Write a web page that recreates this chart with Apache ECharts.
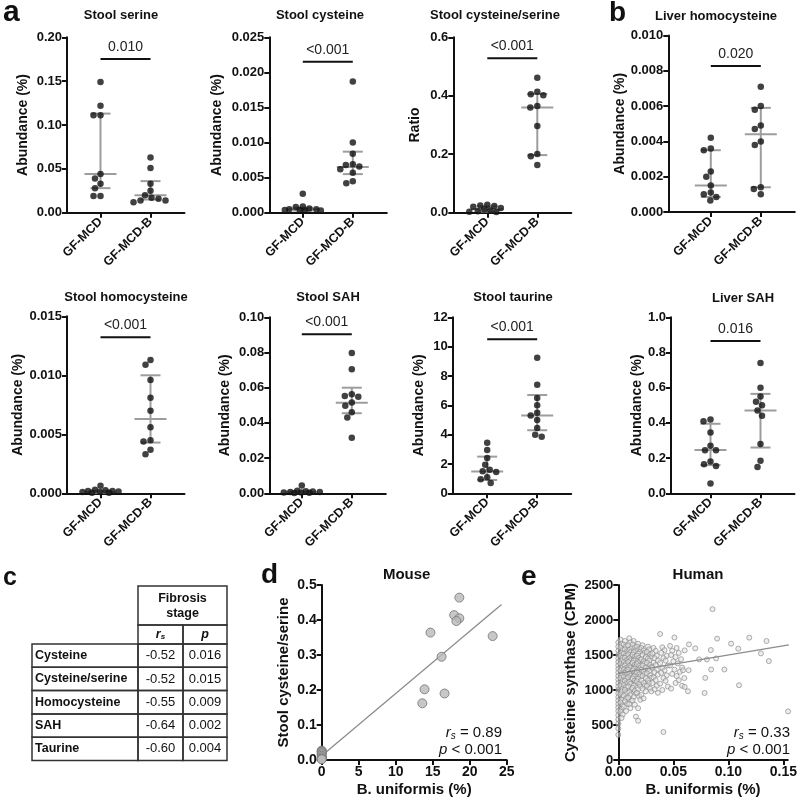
<!DOCTYPE html>
<html><head><meta charset="utf-8">
<script src="https://cdn.jsdelivr.net/npm/echarts@6.0.0/dist/echarts.min.js"></script>
<style>html,body{margin:0;padding:0;background:#fff}#c{width:800px;height:805px}</style>
</head><body><div id="c"></div>
<script>
// ---------------- DATA ----------------
const groups = ['GF-MCD', 'GF-MCD-B'];

const stoolSerineMCD  = [0.149, 0.122, 0.111, 0.111, 0.044, 0.039, 0.033, 0.028, 0.019, 0.019];
const stoolSerineMCDB = [0.063, 0.051, 0.033, 0.025, 0.020, 0.017, 0.016, 0.014, 0.014, 0.012];
const stoolSerineStats = [[0.044, 0.028, 0.113], [0.020, 0.015, 0.036]]; // median, q1, q3

const stoolCysMCD  = [0.0027, 0.0009, 0.0008, 0.0006, 0.0005, 0.0005, 0.0004, 0.0004, 0.0003, 0.0003];
const stoolCysMCDB = [0.0187, 0.0100, 0.0084, 0.0069, 0.0068, 0.0066, 0.0062, 0.0057, 0.0045, 0.0042];
const stoolCysStats = [[0.0005, 0.0003, 0.0007], [0.0065, 0.0055, 0.0087]];

const ratioMCD  = [0.027, 0.025, 0.023, 0.020, 0.016, 0.012, 0.008, 0.005, 0.003, 0.002];
const ratioMCDB = [0.462, 0.414, 0.405, 0.402, 0.365, 0.360, 0.297, 0.201, 0.193, 0.163];
const ratioStats = [[0.012, 0.004, 0.022], [0.360, 0.197, 0.406]];

const liverHcyMCD  = [0.0042, 0.0036, 0.0035, 0.0023, 0.0020, 0.0015, 0.0011, 0.0010, 0.00085, 0.00065];
const liverHcyMCDB = [0.0071, 0.0060, 0.0058, 0.0049, 0.0047, 0.0040, 0.0038, 0.0014, 0.0013, 0.0010];
const liverHcyStats = [[0.0015, 0.00085, 0.0035], [0.0044, 0.0014, 0.0059]];

const stoolHcyMCD  = [0.00065, 0.0003, 0.00025, 0.0002, 0.0002, 0.00015, 0.0001, 0.0001, 0.00005, 0.00005];
const stoolHcyMCDB = [0.0113, 0.0109, 0.0096, 0.0081, 0.0070, 0.0056, 0.0045, 0.0044, 0.0037, 0.0033];
const stoolHcyStats = [[0.00012, 0.00005, 0.00022], [0.0063, 0.0043, 0.0100]];

const stoolSAHMCD  = [0.0045, 0.0015, 0.0012, 0.0010, 0.0008, 0.0007, 0.0005, 0.0004, 0.0003, 0.0002];
const stoolSAHMCDB = [0.0797, 0.0705, 0.0563, 0.0553, 0.0549, 0.0516, 0.0498, 0.0460, 0.0430, 0.0316];
const stoolSAHStats = [[0.0007, 0.0003, 0.0012], [0.0515, 0.0455, 0.0600]];

const taurineMCD  = [3.45, 2.95, 2.4, 1.95, 1.6, 1.5, 1.45, 1.1, 0.95, 0.7];
const taurineMCDB = [9.25, 7.4, 6.5, 6.0, 5.5, 5.3, 5.0, 4.45, 4.0, 3.85];
const taurineStats = [[1.48, 0.91, 2.5], [5.3, 4.3, 6.7]];

const liverSAHMCD  = [0.42, 0.41, 0.345, 0.27, 0.245, 0.245, 0.18, 0.165, 0.155, 0.055];
const liverSAHMCDB = [0.74, 0.60, 0.55, 0.52, 0.50, 0.47, 0.44, 0.28, 0.185, 0.15];
const liverSAHStats = [[0.246, 0.16, 0.395], [0.47, 0.26, 0.565]];

const pTexts = ['0.010', '<0.001', '<0.001', '0.020', '<0.001', '<0.001', '<0.001', '0.016'];

const tableNames = ['Cysteine', 'Cysteine/serine', 'Homocysteine', 'SAH', 'Taurine'];
const tableRs = [-0.52, -0.52, -0.55, -0.64, -0.60];
const tableP  = [0.016, 0.015, 0.009, 0.002, 0.004];

const mouseBU    = [0, 0, 0, 0, 0, 0, 0, 0, 0, 0, 18.6, 17.9, 18.6, 18.2, 14.7, 23.1, 16.2, 13.9, 16.6, 13.6];
const mouseRatio = [0.027, 0.025, 0.023, 0.020, 0.016, 0.012, 0.008, 0.005, 0.003, 0.002,
                    0.464, 0.414, 0.405, 0.397, 0.364, 0.354, 0.295, 0.202, 0.190, 0.162];
const mouseFit = [[0, 0.012], [24.3, 0.444]];

const humanPoints = [
 [0,1680],[0,1620],[0,1560],[0,1500],[0,1450],[0,1400],[0,1350],[0,1300],[0,1250],[0,1200],[0,1150],[0,1100],[0,1050],
 [0,1000],[0,950],[0,900],[0,850],[0,800],[0,750],[0,700],[0,640],[0,580],[0,520],[0,450],[0,360],
 [0.002,1720],[0.003,1660],[0.002,1610],[0.004,1570],[0.003,1530],[0.002,1490],[0.004,1460],[0.003,1420],[0.002,1380],
 [0.004,1340],[0.003,1310],[0.002,1280],[0.004,1240],[0.003,1210],[0.002,1170],[0.004,1130],[0.003,1090],[0.002,1060],
 [0.004,1020],[0.003,980],[0.002,940],[0.004,900],[0.003,860],[0.002,820],[0.004,780],[0.003,730],[0.002,690],[0.004,650],[0.003,600],
 [0.006,1700],[0.005,1650],[0.007,1620],[0.006,1580],[0.008,1550],[0.005,1520],[0.007,1490],[0.006,1460],[0.008,1430],
 [0.005,1400],[0.007,1375],[0.006,1350],[0.008,1320],[0.005,1295],[0.007,1270],[0.006,1245],[0.008,1220],[0.005,1190],
 [0.007,1160],[0.006,1130],[0.008,1100],[0.005,1070],[0.007,1040],[0.006,1000],[0.008,960],[0.005,920],[0.007,880],
 [0.006,840],[0.008,800],[0.005,760],[0.007,700],
 [0.010,1740],[0.011,1680],[0.009,1640],[0.012,1600],[0.010,1570],[0.011,1540],[0.009,1510],[0.012,1480],[0.010,1455],
 [0.011,1425],[0.009,1400],[0.012,1370],[0.010,1345],[0.011,1320],[0.009,1290],[0.012,1260],[0.010,1235],[0.011,1205],
 [0.009,1180],[0.012,1150],[0.010,1120],[0.011,1090],[0.009,1050],[0.012,1010],[0.010,970],[0.011,930],[0.009,890],
 [0.012,850],[0.010,800],[0.011,740],
 [0.014,1700],[0.013,1650],[0.015,1610],[0.016,1570],[0.014,1540],[0.013,1505],[0.015,1475],[0.016,1445],[0.014,1420],
 [0.013,1390],[0.015,1360],[0.016,1335],[0.014,1305],[0.013,1280],[0.015,1250],[0.016,1225],[0.014,1195],[0.013,1165],
 [0.015,1135],[0.016,1100],[0.014,1065],[0.013,1030],[0.015,990],[0.016,950],[0.014,900],[0.013,850],[0.015,790],
 [0.016,620],[0.018,560],
 [0.018,1660],[0.017,1620],[0.019,1585],[0.020,1550],[0.018,1520],[0.017,1490],[0.019,1460],[0.020,1430],[0.018,1400],
 [0.017,1370],[0.019,1345],[0.020,1315],[0.018,1285],[0.017,1255],[0.019,1225],[0.020,1195],[0.018,1160],[0.017,1125],
 [0.019,1090],[0.020,1050],[0.018,1010],[0.017,960],[0.019,910],[0.020,860],[0.018,740],
 [0.022,1640],[0.021,1600],[0.023,1565],[0.024,1530],[0.022,1500],[0.025,1470],[0.021,1440],[0.023,1410],[0.024,1380],
 [0.022,1350],[0.025,1320],[0.021,1290],[0.023,1260],[0.024,1230],[0.022,1200],[0.025,1170],[0.021,1135],[0.023,1100],
 [0.024,1060],[0.022,1020],[0.025,980],[0.021,930],[0.023,880],
 [0.027,1620],[0.028,1580],[0.026,1545],[0.029,1510],[0.030,1480],[0.027,1450],[0.028,1420],[0.026,1390],[0.029,1360],
 [0.030,1330],[0.027,1300],[0.028,1270],[0.026,1240],[0.029,1210],[0.030,1175],[0.027,1140],[0.028,1100],[0.026,1060],
 [0.029,1020],[0.030,980],
 [0.032,1600],[0.034,1560],[0.031,1520],[0.035,1490],[0.033,1455],[0.036,1420],[0.032,1390],[0.034,1355],[0.031,1320],
 [0.035,1290],[0.033,1255],[0.036,1220],[0.032,1180],[0.034,1140],[0.031,1100],[0.035,1060],[0.033,1010],[0.036,960],
 [0.038,1800],[0.040,1610],[0.042,1570],[0.039,1530],[0.044,1490],[0.041,1455],[0.043,1420],[0.038,1385],[0.045,1350],
 [0.040,1315],[0.042,1280],[0.039,1245],[0.044,1210],[0.041,1170],[0.043,1130],[0.038,1090],[0.045,1050],[0.040,1000],[0.041,400],
 [0.051,1750],[0.047,1630],[0.053,1600],[0.049,1560],[0.055,1530],[0.048,1500],[0.052,1470],[0.057,1440],[0.050,1410],
 [0.054,1380],[0.047,1350],[0.058,1320],[0.051,1290],[0.056,1260],[0.049,1230],[0.053,1200],[0.060,1170],[0.055,1140],
 [0.052,1100],[0.058,1060],[0.048,1020],
 [0.0603,1566],[0.0642,1652],[0.0699,1595],[0.0735,1437],[0.0805,1437],[0.0841,1571],[0.0856,2155],[0.0889,1451],
 [0.0898,1734],[0.0844,1293],[0.0964,1293],[0.0639,1283],[0.0588,1283],[0.079,1173],[0.0603,1044],[0.0633,982],
 [0.0784,958],[0.1025,1662],[0.109,1590],[0.119,1748],[0.1097,1068],[0.1296,1523],[0.1347,1700],[0.1368,1413],[0.1543,694]
];
const humanFit = [[0, 1237], [0.155, 1645]];

// ---------------- LAYOUT ----------------
const FONT = '"Liberation Sans", Arial, sans-serif';
const INK = '#111';
const dotPanels = [
 {title:'Stool serine', tx:121, ty:15, left:67, top:37.3, height:175.4, xmin:-0.67, ymax:0.20, yint:0.05, dec:2, yname:'Abundance (%)', gap:37, sig:0.876, mcd:stoolSerineMCD, mcdb:stoolSerineMCDB, stats:stoolSerineStats},
 {title:'Stool cysteine', tx:320, ty:15, left:269.3, top:37.3, height:175.4, xmin:-0.67, ymax:0.025, yint:0.005, dec:3, yname:'Abundance (%)', gap:45, sig:0.861, mcd:stoolCysMCD, mcdb:stoolCysMCDB, stats:stoolCysStats},
 {title:'Stool cysteine/serine', tx:495, ty:15, left:453.3, top:37.3, height:175.4, xmin:-0.68, ymax:0.6, yint:0.2, dec:1, yname:'Ratio', gap:31, sig:0.88, mcd:ratioMCD, mcdb:ratioMCDB, stats:ratioStats},
 {title:'Liver homocysteine', tx:716, ty:16, left:668.3, top:35.5, height:176.5, xmin:-0.85, ymax:0.010, yint:0.002, dec:3, yname:'Abundance (%)', gap:39, sig:0.827, mcd:liverHcyMCD, mcdb:liverHcyMCDB, stats:liverHcyStats},
 {title:'Stool homocysteine', tx:126, ty:297, left:67, top:316.3, height:177, xmin:-0.67, ymax:0.015, yint:0.005, dec:3, yname:'Abundance (%)', gap:37, sig:0.882, mcd:stoolHcyMCD, mcdb:stoolHcyMCDB, stats:stoolHcyStats},
 {title:'Stool SAH', tx:328, ty:297, left:269.3, top:317.3, height:176, xmin:-0.65, ymax:0.10, yint:0.02, dec:2, yname:'Abundance (%)', gap:37, sig:0.903, mcd:stoolSAHMCD, mcdb:stoolSAHMCDB, stats:stoolSAHStats},
 {title:'Stool taurine', tx:513, ty:297, left:452.7, top:317.3, height:176, xmin:-0.69, ymax:12, yint:2, dec:0, yname:'Abundance (%)', gap:27, sig:0.875, mcd:taurineMCD, mcdb:taurineMCDB, stats:taurineStats},
 {title:'Liver SAH', tx:743, ty:298, left:671, top:317.3, height:176, xmin:-0.79, ymax:1.0, yint:0.2, dec:1, yname:'Abundance (%)', gap:27, sig:0.866, mcd:liverSAHMCD, mcdb:liverSAHMCDB, stats:liverSAHStats}
];
const XMAX = 1.68, PXX = 50, DOT = 6.5, GAPD = 6.8, MAXOFF = 18;

// beeswarm layout (pixel space), offsets limited to +/- MAXOFF px
function swarm(values, pxPerY, pxPerX, D) {
  const order = values.map((v, i) => i).sort((a, b) => values[b] - values[a]);
  const placed = []; const off = new Array(values.length).fill(0);
  order.forEach(i => {
    const y = values[i] * pxPerY;
    let best = null, bestScore = -1, bestC = 0;
    for (let k = 0; ; k++) {
      const cand = (k % 2 === 0 ? 1 : -1) * Math.ceil(k / 2) * 0.5;
      if (Math.abs(cand) > MAXOFF) break;
      let md = Infinity;
      placed.forEach(p => { md = Math.min(md, Math.hypot(p.x - cand, p.y - y)); });
      if (md >= D) { best = cand; break; }
      if (md > bestScore + 0.01) { bestScore = md; bestC = cand; }
    }
    if (best === null) best = bestC;
    placed.push({x: best, y}); off[i] = best / pxPerX;
  });
  return off;
}

function txt(x, y, text, font, align, extra) {
  return {type:'text', x, y, silent:true, style:Object.assign({text, font, fill:INK,
    textAlign:align || 'center', textVerticalAlign:'middle', align:align || 'center', verticalAlign:'middle'}, extra || {})};
}

const option = {animation:false, backgroundColor:'#fff', grid:[], xAxis:[], yAxis:[], series:[], graphic:{elements:[]}};
const G = option.graphic.elements;

const axisLineStyle = {color: INK, width: 2};
dotPanels.forEach((p, i) => {
  option.grid.push({left:p.left, top:p.top, width:(XMAX - p.xmin) * PXX, height:p.height});
  option.xAxis.push({type:'value', gridIndex:i, min:p.xmin, max:XMAX,
    axisLine:{onZero:false, lineStyle:axisLineStyle},
    axisTick:{show:true, customValues:[0, 1], length:5, lineStyle:axisLineStyle},
    axisLabel:{customValues:[0, 1], formatter:v => groups[Math.round(v)], rotate:45, margin:7,
      fontFamily:FONT, fontWeight:'bold', fontSize:12.5, color:INK},
    splitLine:{show:false}});
  option.yAxis.push({type:'value', gridIndex:i, min:0, max:p.ymax, interval:p.yint,
    name:p.yname, nameLocation:'middle', nameGap:p.gap,
    nameTextStyle:{fontFamily:FONT, fontWeight:'bold', fontSize:14, color:INK},
    axisLine:{show:true, onZero:false, lineStyle:axisLineStyle},
    axisTick:{show:true, length:5, lineStyle:axisLineStyle},
    axisLabel:{formatter:v => v.toFixed(p.dec), margin:5, fontFamily:FONT, fontWeight:'bold', fontSize:13, color:INK},
    splitLine:{show:false}});
  const pxY = p.height / p.ymax;
  // median + IQR
  option.series.push({type:'custom', xAxisIndex:i, yAxisIndex:i, silent:true, z:2,
    data:[[0].concat(p.stats[0]), [1].concat(p.stats[1])],
    renderItem:(params, api) => {
      const x = api.value(0);
      const m = api.coord([x, api.value(1)]), lo = api.coord([x, api.value(2)]), hi = api.coord([x, api.value(3)]);
      const st = {stroke:'#9d9d9d', lineWidth:2};
      return {type:'group', children:[
        {type:'line', shape:{x1:m[0]-16, y1:m[1], x2:m[0]+16, y2:m[1]}, style:st},
        {type:'line', shape:{x1:lo[0], y1:lo[1], x2:hi[0], y2:hi[1]}, style:st},
        {type:'line', shape:{x1:lo[0]-10, y1:lo[1], x2:lo[0]+10, y2:lo[1]}, style:st},
        {type:'line', shape:{x1:hi[0]-10, y1:hi[1], x2:hi[0]+10, y2:hi[1]}, style:st}
      ]};
    }});
  [p.mcd, p.mcdb].forEach((vals, g) => {
    const off = swarm(vals, pxY, PXX, GAPD);
    option.series.push({type:'scatter', xAxisIndex:i, yAxisIndex:i, clip:false, z:3, silent:true,
      symbolSize:DOT, itemStyle:{color:INK},
      data:vals.map((v, k) => [g + off[k], v])});
  });
  // significance bar
  const pt = pTexts[i];
  option.series.push({type:'custom', xAxisIndex:i, yAxisIndex:i, silent:true, z:4,
    data:[[0, p.sig * p.ymax, 1]],
    renderItem:(params, api) => {
      const a = api.coord([api.value(0), api.value(1)]), b = api.coord([api.value(2), api.value(1)]);
      return {type:'group', children:[
        {type:'line', shape:{x1:a[0], y1:a[1], x2:b[0], y2:b[1]}, style:{stroke:INK, lineWidth:2}},
        {type:'text', style:{text:pt, x:(a[0]+b[0])/2, y:a[1]-12, align:'center', verticalAlign:'middle',
          font:'14px ' + FONT, fill:'#222'}}
      ]};
    }});
  G.push(txt(p.tx, p.ty, p.title, 'bold 13px ' + FONT));
});

// ---- panel d (mouse) ----
const di = dotPanels.length;
option.grid.push({left:321.7, top:585, width:185, height:175});
option.xAxis.push({type:'value', gridIndex:di, min:0, max:25, interval:5,
  name:'B. uniformis (%)', nameLocation:'middle', nameGap:22,
  nameTextStyle:{fontFamily:FONT, fontWeight:'bold', fontSize:15, color:INK},
  axisLine:{onZero:false, lineStyle:axisLineStyle}, axisTick:{length:5, lineStyle:axisLineStyle},
  axisLabel:{margin:5, fontFamily:FONT, fontWeight:'bold', fontSize:14, color:INK}, splitLine:{show:false}});
option.yAxis.push({type:'value', gridIndex:di, min:0, max:0.5, interval:0.1,
  name:'Stool cysteine/serine', nameLocation:'middle', nameGap:30,
  nameTextStyle:{fontFamily:FONT, fontWeight:'bold', fontSize:15, color:INK},
  axisLine:{show:true, onZero:false, lineStyle:axisLineStyle}, axisTick:{show:true, length:5, lineStyle:axisLineStyle},
  axisLabel:{formatter:v => v.toFixed(1), margin:5, fontFamily:FONT, fontWeight:'bold', fontSize:14, color:INK},
  splitLine:{show:false}});
option.series.push({type:'line', xAxisIndex:di, yAxisIndex:di, data:mouseFit, showSymbol:false, silent:true, z:2,
  lineStyle:{color:'#8c8c8c', width:1.3}});
option.series.push({type:'scatter', xAxisIndex:di, yAxisIndex:di, clip:false, silent:true, z:3, symbolSize:9,
  itemStyle:{color:'#b9b9b9', borderColor:'#747474', borderWidth:1},
  data:mouseBU.map((x, k) => [x, mouseRatio[k]])});

// ---- panel e (human) ----
const ei = di + 1;
option.grid.push({left:618.3, top:585, width:170.5, height:175});
option.xAxis.push({type:'value', gridIndex:ei, min:0, max:0.154, interval:0.05,
  name:'B. uniformis (%)', nameLocation:'middle', nameGap:22,
  nameTextStyle:{fontFamily:FONT, fontWeight:'bold', fontSize:15, color:INK},
  axisLine:{onZero:false, lineStyle:axisLineStyle}, axisTick:{length:5, lineStyle:axisLineStyle},
  axisLabel:{formatter:v => v.toFixed(2), margin:5, fontFamily:FONT, fontWeight:'bold', fontSize:14, color:INK},
  splitLine:{show:false}});
option.yAxis.push({type:'value', gridIndex:ei, min:0, max:2500, interval:500,
  name:'Cysteine synthase (CPM)', nameLocation:'middle', nameGap:40,
  nameTextStyle:{fontFamily:FONT, fontWeight:'bold', fontSize:15, color:INK},
  axisLine:{show:true, onZero:false, lineStyle:axisLineStyle}, axisTick:{show:true, length:5, lineStyle:axisLineStyle},
  axisLabel:{formatter:v => String(Math.round(v)), margin:5, fontFamily:FONT, fontWeight:'bold', fontSize:13, color:INK},
  splitLine:{show:false}});
option.series.push({type:'scatter', xAxisIndex:ei, yAxisIndex:ei, clip:false, silent:true, z:2, symbolSize:5,
  itemStyle:{color:'rgba(225,225,225,0.7)', borderColor:'#8d8d8d', borderWidth:0.9},
  data:humanPoints});
option.series.push({type:'line', xAxisIndex:ei, yAxisIndex:ei, data:humanFit, showSymbol:false, silent:true, z:3,
  lineStyle:{color:'#8c8c8c', width:1.3}});

// ---- titles, letters, annotations ----
G.push(txt(406.7, 575, 'Mouse', 'bold 15px ' + FONT));
G.push(txt(698, 575, 'Human', 'bold 15px ' + FONT));
G.push(txt(3, 13, 'a', 'bold 30px ' + FONT, 'left'));
G.push(txt(609, 13.5, 'b', 'bold 28px ' + FONT, 'left'));
G.push(txt(3, 578, 'c', 'bold 25px ' + FONT, 'left'));
G.push(txt(261, 575, 'd', 'bold 28px ' + FONT, 'left'));
G.push(txt(521, 577, 'e', 'bold 28px ' + FONT, 'left'));

const richAnn = {
  i:{fontStyle:'italic', fontSize:15, fontFamily:FONT, fill:INK, color:INK},
  s:{fontStyle:'italic', fontSize:10, fontFamily:FONT, fill:INK, color:INK, verticalAlign:'bottom', padding:[6,0,0,0]},
  n:{fontSize:15, fontFamily:FONT, fill:INK, color:INK}
};
function ann(xr, y, txtS) {
  return {type:'text', x:xr, y, silent:true, style:{text:txtS, rich:richAnn, font:'15px ' + FONT, fill:INK,
    textAlign:'right', align:'right', textVerticalAlign:'middle', verticalAlign:'middle'}};
}
G.push(ann(502, 733, '{i|r}{s|s}{n| = 0.89}'));
G.push(ann(502, 750, '{i|p}{n| < 0.001}'));
G.push(ann(790, 733, '{i|r}{s|s}{n| = 0.33}'));
G.push(ann(790, 750, '{i|p}{n| < 0.001}'));

// ---- table c ----
const TB = {x0:32, x1:138, x2:183, x3:227, yh:586, ys:625, yr:644, rh:23.3};
const bs = {stroke:'#333', lineWidth:1.5, fill:'none'};
function rect(x, y, w, h) { return {type:'rect', silent:true, shape:{x, y, width:w, height:h}, style:bs}; }
G.push(rect(TB.x1, TB.yh, TB.x3 - TB.x1, TB.ys - TB.yh));
G.push(rect(TB.x1, TB.ys, TB.x2 - TB.x1, TB.yr - TB.ys));
G.push(rect(TB.x2, TB.ys, TB.x3 - TB.x2, TB.yr - TB.ys));
G.push(txt((TB.x1 + TB.x3) / 2, 598.5, 'Fibrosis', 'bold 12.5px ' + FONT));
G.push(txt((TB.x1 + TB.x3) / 2, 613.5, 'stage', 'bold 12.5px ' + FONT));
G.push({type:'text', x:(TB.x1 + TB.x2) / 2, y:(TB.ys + TB.yr) / 2, silent:true, style:{text:'{a|r}{b|s}',
  rich:{a:{fontStyle:'italic', fontWeight:'bold', fontSize:12.5, fontFamily:FONT},
        b:{fontStyle:'italic', fontWeight:'bold', fontSize:8, fontFamily:FONT, verticalAlign:'bottom', padding:[4,0,0,0]}},
  textAlign:'center', align:'center', textVerticalAlign:'middle', verticalAlign:'middle', fill:INK}});
G.push(txt((TB.x2 + TB.x3) / 2, (TB.ys + TB.yr) / 2, 'p', 'italic bold 12.5px ' + FONT));
tableNames.forEach((nm, r) => {
  const y = TB.yr + r * TB.rh;
  G.push(rect(TB.x0, y, TB.x1 - TB.x0, TB.rh));
  G.push(rect(TB.x1, y, TB.x2 - TB.x1, TB.rh));
  G.push(rect(TB.x2, y, TB.x3 - TB.x2, TB.rh));
  G.push(txt(TB.x0 + 3, y + TB.rh / 2, nm, 'bold 12.5px ' + FONT, 'left'));
  G.push(txt((TB.x1 + TB.x2) / 2, y + TB.rh / 2, tableRs[r].toFixed(2), '13px ' + FONT));
  G.push(txt((TB.x2 + TB.x3) / 2, y + TB.rh / 2, tableP[r].toFixed(3), '13px ' + FONT));
});

const chart = echarts.init(document.getElementById('c'), null, {renderer:'canvas'});
chart.setOption(option);
</script></body></html>
